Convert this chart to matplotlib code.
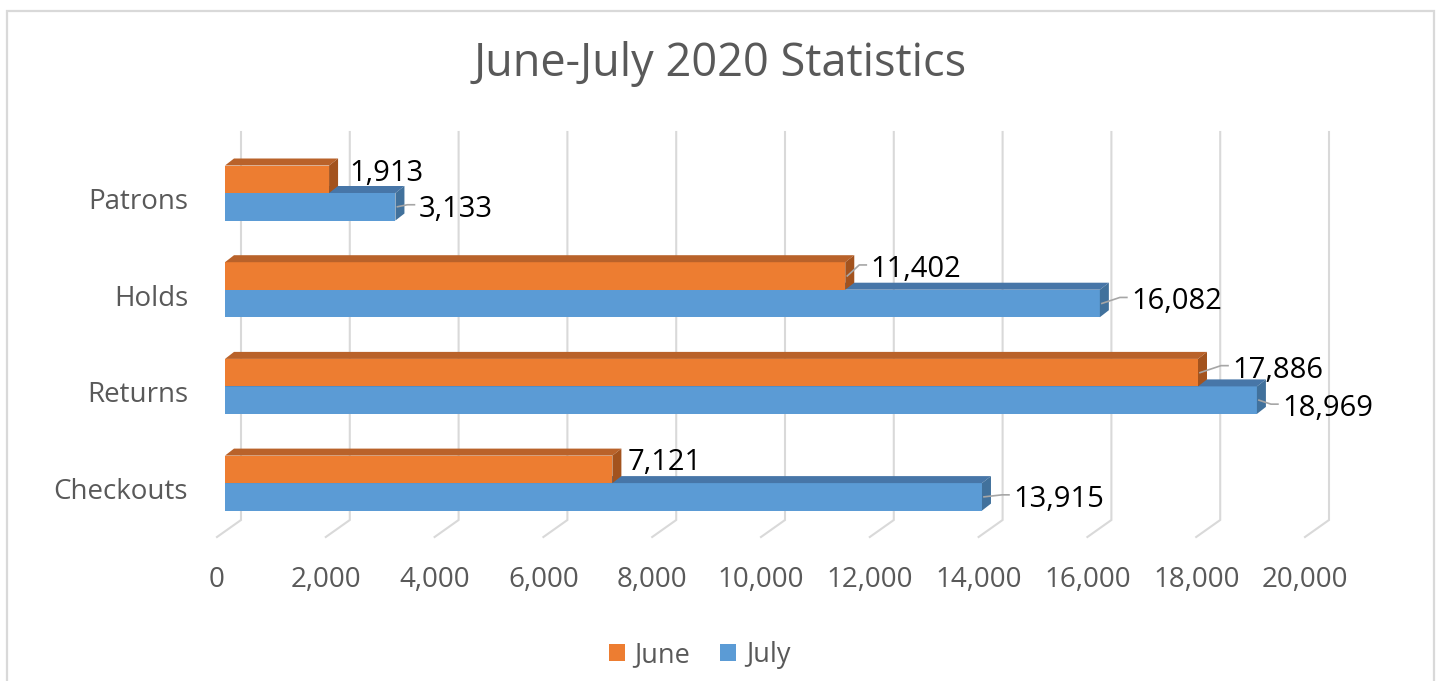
import matplotlib
matplotlib.use("Agg")
import matplotlib.pyplot as plt
from matplotlib.patches import Polygon, Rectangle, Patch

# ---------------- data ----------------
categories = ["Patrons", "Holds", "Returns", "Checkouts"]   # top to bottom
june = [1913, 11402, 17886, 7121]
july = [3133, 16082, 18969, 13915]
series_names = ["June", "July"]
xticks = [0, 2000, 4000, 6000, 8000, 10000, 12000, 14000, 16000, 18000, 20000]
title = "June-July 2020 Statistics"

# ---------------- style ----------------
W, H = 1440, 681
FONT = ["Open Sans", "DejaVu Sans"]
GRAY_TXT = "#595959"
GRID = "#D9D9D9"
ORANGE = ("#ED7D31", "#B9622A", "#A3531E")   # front, top, side
BLUE = ("#5B9BD5", "#4776A8", "#41719C")

XPX = 108.8 / 2000.0   # pixels per value unit
X0 = 225.0             # pixel of value 0 (bar front)
YPX = 96.7             # pixels per category step
Y0 = 193.0             # pixel of first category boundary
BAR_H = 27.5 / YPX
DX = 9.0 / XPX
DY = -7.0 / YPX

# label offsets in pixels (dx from bar end, dy from bar centre)
june_off = [(20, -8), (25, -9), (34, -5), (15, -9)]
july_off = [(23, 0), (31, -4), (25, 6), (31, 0)]

plt.rcParams["font.family"] = FONT

fig = plt.figure(figsize=(W / 100, H / 100), dpi=100)
ax = fig.add_axes([0, 0, 1, 1])
ax.set_xlim(-X0 / XPX, (W - X0) / XPX)
ax.set_ylim((H - Y0) / YPX, -Y0 / YPX)
ax.axis("off")


def py(p):
    """pixel row -> data y"""
    return (p - Y0) / YPX


def px(p):
    """pixel offset -> data x offset"""
    return p / XPX


# gridlines: back wall vertical + floor diagonal
for v in xticks:
    xb = v + px(16)
    xf = v - px(8)
    ax.plot([xb, xb, xf], [py(132), py(520), py(537)], color=GRID, lw=1.5,
            solid_joinstyle="miter", zorder=1)
    ax.text(xf, py(580), f"{v:,}", ha="center", va="center", fontsize=20,
            color=GRAY_TXT)


def draw_bar(val, ytop, cols, z):
    ybot = ytop + BAR_H
    ax.barh(ytop, val, height=BAR_H, left=0, align="edge", color=cols[0],
            edgecolor="none", zorder=z)
    top = Polygon([(0, ytop), (DX, ytop + DY), (val + DX, ytop + DY), (val, ytop)],
                  closed=True, facecolor=cols[1], edgecolor="none", zorder=z)
    side = Polygon([(val, ytop), (val + DX, ytop + DY), (val + DX, ybot + DY), (val, ybot)],
                   closed=True, facecolor=cols[2], edgecolor="none", zorder=z)
    ax.add_patch(top)
    ax.add_patch(side)


def draw_label(val, ycen, off):
    lx = val + px(off[0])
    ly = ycen + off[1] / YPX
    ax.text(lx, ly + 10 / YPX, f"{val:,}", ha="left", va="baseline",
            fontsize=21, color="black", zorder=10)
    if off[0] >= 22:
        ax.plot([val + px(2), lx - px(11), lx - px(4)],
                [ycen, ly - 2 / YPX, ly - 2 / YPX],
                color="#A6A6A6", lw=1.2, zorder=9)


for k, cat in enumerate(categories):
    pos = k
    # July (lower, blue) first, then June (upper, orange) on top
    draw_bar(july[k], pos, BLUE, 3)
    draw_bar(june[k], pos - BAR_H, ORANGE, 4)
    draw_label(june[k], pos - BAR_H / 2, june_off[k])
    draw_label(july[k], pos + BAR_H / 2, july_off[k])
    ax.text(px(188 - X0), pos + 9 / YPX, cat, ha="right", va="center",
            fontsize=20, color=GRAY_TXT)

# title
fig.text(0.5, 1 - 64 / H, title, ha="center", va="center", fontsize=32.5,
         color=GRAY_TXT)

# legend
handles = [Patch(facecolor=ORANGE[0], edgecolor="none"),
           Patch(facecolor=BLUE[0], edgecolor="none")]
fig.legend(handles, series_names, loc="center", bbox_to_anchor=(699.5 / W, 1 - 655 / H),
           ncol=2, frameon=False, fontsize=19.5, handlelength=0.6, handleheight=0.6,
           handletextpad=0.35, columnspacing=1.1, labelcolor=GRAY_TXT)

# chart border
fig.patches.append(Rectangle((7 / W, -0.05), (1434 - 7) / W, (H - 11) / H + 0.05,
                             transform=fig.transFigure, fill=False,
                             edgecolor=GRID, lw=1.6))

fig.savefig("out.png", dpi=100)
